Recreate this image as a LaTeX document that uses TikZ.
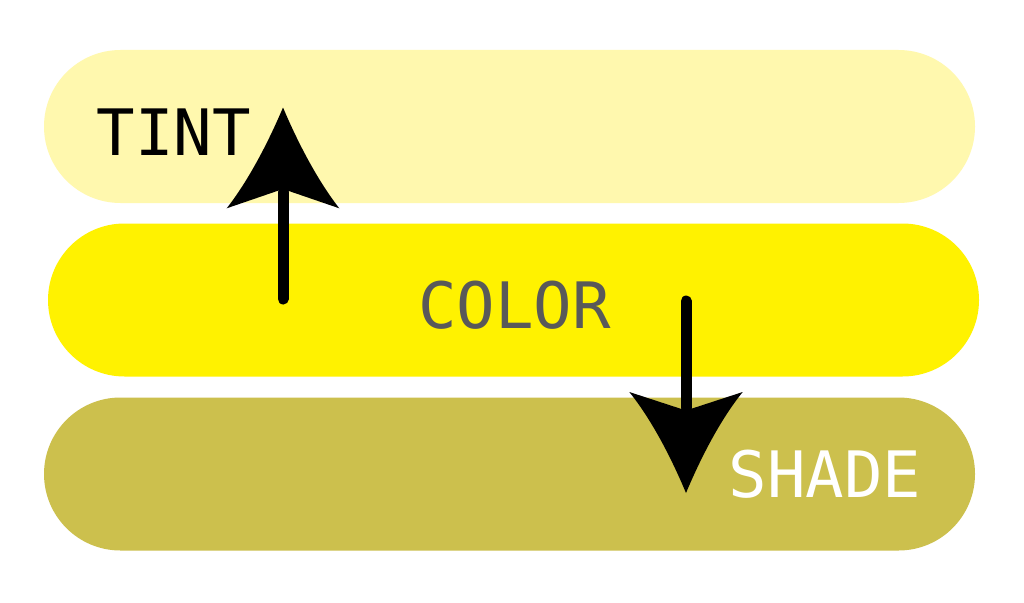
\documentclass[tikz,border=0pt]{standalone}
\usepackage{fontspec}
\newfontfamily\labelfont{DejaVu Sans Mono}
\definecolor{tintcol}{HTML}{FFF8AE}
\definecolor{basecol}{HTML}{FFF200}
\definecolor{shadecol}{HTML}{CCC04D}
\definecolor{graytext}{HTML}{595959}
\tikzset{
  pill/.style={fill=#1, draw=none, minimum width=931pt, minimum height=153pt,
    rounded corners=76.5pt, inner sep=0pt},
  lbl/.style={inner sep=0pt, anchor=base, font=\labelfont\fontsize{64}{64}\selectfont},
  shaft/.style={line width=11pt, line cap=round, black},
}
\begin{document}
\begin{tikzpicture}[x=1pt, y=-1pt]
\useasboundingbox (0,0) rectangle (1024,602);
\fill[white] (0,0) rectangle (1024,602);
\node[pill=tintcol] (tintbar) at (509.5,126.5) {};
\node[pill=basecol] (colorbar) at (513.5,300) {};
\node[pill=shadecol] (shadebar) at (509.5,474) {};
\node[lbl, text=black] (tint) at (174,155) {TINT};
\node[lbl, text=graytext] (color) at (514.5,328) {COLOR};
\node[lbl, text=white] (shade) at (825,497) {SHADE};
% up arrow
\coordinate (upstart) at (283,299);
\coordinate (uptip) at (283,107.5);
\coordinate (upneck) at (283,192);
\draw[shaft] (upstart) -- (upneck);
\fill[black] (uptip) .. controls (265,150) and (245,185) .. (226.7,208.3)
  -- (283,189) -- (339.3,208.3) .. controls (321,185) and (301,150) .. (uptip) -- cycle;
% down arrow
\coordinate (downstart) at (686,301);
\coordinate (downtip) at (686,493);
\coordinate (downneck) at (686,408);
\draw[shaft] (downstart) -- (downneck);
\fill[black] (downtip) .. controls (668,450) and (648,415) .. (629.3,392)
  -- (686,410.5) -- (742.7,392) .. controls (724,415) and (704,450) .. (downtip) -- cycle;
\end{tikzpicture}
\end{document}
